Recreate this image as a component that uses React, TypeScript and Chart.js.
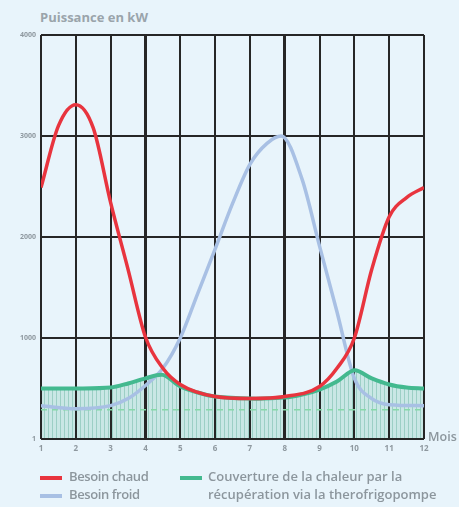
import React, { useEffect, useRef } from "react";
import { Chart, registerables } from "chart.js";

Chart.register(...registerables);

const monthTicks = [1, 2, 3, 4, 5, 6, 7, 8, 9, 10, 11, 12];
const powerTicks = [0, 1000, 2000, 3000, 4000];

const chaudX = [1, 1.5, 2, 2.5, 3, 3.5, 4, 4.5, 5, 6, 7, 8, 9, 9.5, 10, 10.5, 11, 11.5, 12];
const chaudY = [2490, 3100, 3310, 3080, 2340, 1680, 1010, 700, 540, 420, 400, 420, 520, 700, 1000, 1680, 2200, 2390, 2490];

const froidX = [1, 2, 3, 3.5, 4, 4.5, 5, 5.5, 6, 6.5, 7, 7.5, 7.9, 8.5, 9, 9.5, 10, 10.5, 11, 12];
const froidY = [330, 300, 330, 400, 530, 700, 1000, 1440, 1880, 2330, 2720, 2930, 3000, 2570, 1910, 1260, 600, 400, 340, 330];

const couvX = [1, 2, 3, 3.5, 4, 4.5, 5, 5.5, 6, 7, 8, 8.5, 9, 9.5, 10, 10.5, 11, 11.5, 12];
const couvY = [500, 500, 510, 550, 600, 635, 520, 460, 420, 400, 410, 440, 490, 570, 680, 600, 540, 510, 500];

const seuilX = [1, 12];
const seuilY = [290, 290];

const pts = (xs: number[], ys: number[]) => xs.map((x, i) => ({ x, y: ys[i] }));

export default function App() {
  const ref = useRef<HTMLCanvasElement>(null);

  useEffect(() => {
    const canvas = ref.current!;
    const pc = document.createElement("canvas");
    pc.width = 4;
    pc.height = 8;
    const pctx = pc.getContext("2d")!;
    pctx.fillStyle = "rgba(170, 218, 208, 0.5)";
    pctx.fillRect(0, 0, 4, 8);
    pctx.fillStyle = "rgba(120, 188, 172, 0.55)";
    pctx.fillRect(0, 0, 1, 8);
    const pattern = pctx.createPattern(pc, "repeat")!;

    const chart = new Chart(canvas, {
      type: "line",
      data: {
        datasets: [
          {
            label: "Besoin chaud",
            data: pts(chaudX, chaudY),
            borderColor: "#e8343e",
            borderWidth: 3.5,
            cubicInterpolationMode: "monotone",
            pointRadius: 0,
            fill: false,
            order: 1,
          },
          {
            label: "Couverture",
            data: pts(couvX, couvY),
            borderColor: "#43b98f",
            borderWidth: 4,
            tension: 0.3,
            pointRadius: 0,
            fill: "origin",
            backgroundColor: pattern as any,
            order: 2,
          },
          {
            label: "Besoin froid",
            data: pts(froidX, froidY),
            borderColor: "#a8c0e4",
            borderWidth: 3.5,
            cubicInterpolationMode: "monotone",
            pointRadius: 0,
            fill: false,
            order: 3,
          },
          {
            label: "seuil",
            data: pts(seuilX, seuilY),
            borderColor: "#86d9a8",
            borderWidth: 1.5,
            borderDash: [6, 5],
            pointRadius: 0,
            fill: false,
            order: 4,
          },
        ],
      },
      options: {
        responsive: false,
        animation: false,
        layout: { padding: { left: 0, top: 35, right: 35, bottom: 48 } },
        plugins: {
          legend: { display: false },
          tooltip: { enabled: false },
          filler: { drawTime: "beforeDraw" } as any,
        },
        scales: {
          x: {
            type: "linear",
            min: 1,
            max: 12,
            afterBuildTicks: (s: any) => {
              s.ticks = monthTicks.map((v) => ({ value: v }));
            },
            afterFit: (s: any) => {
              s.height = 20;
            },
            border: { display: false },
            grid: {
              color: "#262626",
              lineWidth: (c: any) => (c.tick && (c.tick.value === 4 || c.tick.value === 8) ? 3 : 2),
              drawTicks: false,
            },
            ticks: {
              color: "#8e989f",
              font: { family: "Open Sans", size: 8, weight: "bold" },
              padding: 5,
              maxRotation: 0,
            },
          },
          y: {
            min: 0,
            max: 4000,
            afterBuildTicks: (s: any) => {
              s.ticks = powerTicks.map((v) => ({ value: v }));
            },
            afterFit: (s: any) => {
              s.width = 41;
            },
            border: { display: false },
            grid: {
              color: "#262626",
              lineWidth: 2,
              drawTicks: false,
            },
            ticks: {
              color: "#8e989f",
              font: { family: "Open Sans", size: 7, weight: "bold" },
              padding: 5,
              callback: (v: any) => (v === 0 ? "1" : String(v)),
            },
          },
        },
      },
    });
    return () => chart.destroy();
  }, []);

  const txt: React.CSSProperties = {
    position: "absolute",
    fontFamily: "'Open Sans', sans-serif",
    fontWeight: 600,
    color: "#8c969d",
    whiteSpace: "nowrap",
  };
  const sw = (left: number, top: number, color: string): React.CSSProperties => ({
    position: "absolute",
    left,
    top,
    width: 22,
    height: 4,
    background: color,
  });

  return (
    <div
      style={{
        position: "fixed",
        left: 0,
        top: 0,
        width: 459,
        height: 507,
        background: "#e8f4fb",
        overflow: "hidden",
      }}
    >
      <div style={{ ...txt, left: 40, top: 8, fontSize: 13, fontWeight: 700, color: "#9aa4ab" }}>
        Puissance en kW
      </div>
      <canvas ref={ref} width={459} height={507} style={{ position: "absolute", left: 0, top: 0 }} />
      <div style={{ ...txt, left: 428, top: 428, fontSize: 12.5 }}>Mois</div>
      <div style={sw(40, 476, "#e8343e")} />
      <div style={{ ...txt, left: 69, top: 467, fontSize: 13, letterSpacing: -0.4 }}>Besoin chaud</div>
      <div style={sw(40, 494, "#a8c0e4")} />
      <div style={{ ...txt, left: 69, top: 485, fontSize: 13, letterSpacing: -0.4 }}>Besoin froid</div>
      <div style={sw(180, 476, "#43b98f")} />
      <div style={{ ...txt, left: 208, top: 467, fontSize: 13, lineHeight: "18px" }}>
        Couverture de la chaleur par la
        <br />
        récupération via la therofrigopompe
      </div>
    </div>
  );
}
